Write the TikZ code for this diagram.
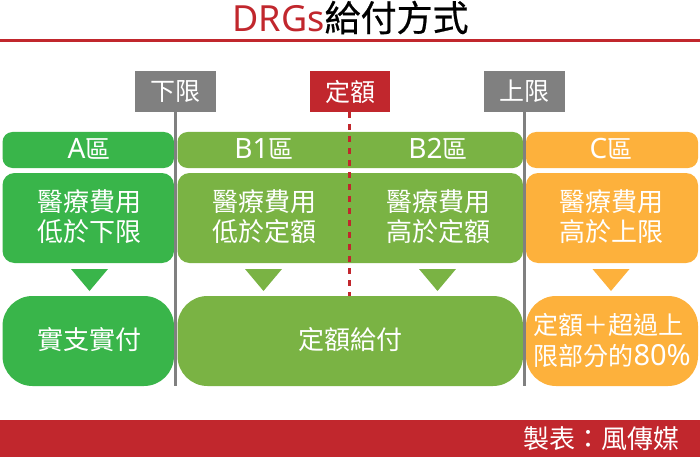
\documentclass[tikz,border=0pt]{standalone}
\usepackage{fontspec}
\setmainfont{Noto Sans CJK TC}
\newfontfamily\latinf{Noto Sans}
\newfontfamily\titlef[FakeBold=0.6]{Noto Sans CJK TC}
\definecolor{brandred}{HTML}{C1272D}
\definecolor{midgray}{HTML}{808080}
\definecolor{zgreen}{HTML}{39B54A}
\definecolor{zolive}{HTML}{7AB344}
\definecolor{zorange}{HTML}{FDB13C}
\newcommand{\fs}[1]{\fontsize{#1}{#1}\selectfont}
\newcommand{\lat}[1]{{\latinf\fontsize{28}{28}\selectfont #1}}
\tikzset{
  every node/.style={inner sep=0pt,outer sep=0pt,text=white,align=center},
  flag/.style={minimum width=81pt,minimum height=41pt,fill=midgray,font=\fs{25}},
  head/.style={minimum height=36pt,rounded corners=10pt},
  cond/.style={minimum height=90pt,rounded corners=12pt},
  pay/.style={minimum height=90pt,rounded corners=30pt,font=\fs{26}},
  limit/.style={draw=midgray,line width=3pt},
  lbl/.style={font=\fs{25}},
  txt/.style={font=\fs{26}}
}
\begin{document}
\begin{tikzpicture}[x=1pt,y=-1pt]
\useasboundingbox (0,0) rectangle (700,457);
% title and rule
\node (title) at (350.5,17.5) [text=black,font=\fs{36}] {{\latinf\color{brandred}DRGs}{\titlef 給付方式}};
\fill[brandred] (0,39) rectangle (700,42);
% footer
\node (footer) [fill=brandred,minimum width=700pt,minimum height=37pt] at (350,438.5) {};
\node (credit) at (601,439) [txt] {製表：風傳媒};
% zone headers
\node (ha) [head,fill=zgreen,minimum width=171.5pt] at (88.25,150) {};
\node (hb) [head,fill=zolive,minimum width=345.5pt] at (350.25,150) {};
\node (hc) [head,fill=zorange,minimum width=172pt] at (612,150) {};
\node (ta) [lbl] at (89,148.5) {\lat{A}區};
\node (tb) [lbl] at (264,148.5) {\lat{B1}區};
\node (td) [lbl] at (438,148.5) {\lat{B2}區};
\node (tc) [lbl] at (611,148.5) {\lat{C}區};
% conditions
\node (ca) [cond,fill=zgreen,minimum width=171.5pt] at (88.25,218) {};
\node (cb) [cond,fill=zolive,minimum width=345.5pt] at (350.25,218) {};
\node (cc) [cond,fill=zorange,minimum width=172pt] at (612,218) {};
\node (xa) [txt] at (89.5,217) {醫療費用\\[4pt]低於下限};
\node (xb) [txt] at (264,217) {醫療費用\\[4pt]低於定額};
\node (xd) [txt] at (438,217) {醫療費用\\[4pt]高於定額};
\node (xc) [txt] at (611,217) {醫療費用\\[4pt]高於上限};
% triangles
\fill[zgreen] (71,269) -- (108,269) -- (89.5,291) -- cycle;
\fill[zolive] (245,269) -- (282,269) -- (263.5,291) -- cycle;
\fill[zolive] (419,269) -- (456,269) -- (437.5,291) -- cycle;
\fill[zorange] (592.5,269) -- (629.5,269) -- (611,291) -- cycle;
% payments
\node (pa) [pay,fill=zgreen,minimum width=171.5pt] at (88.25,341) {};
\node (pb) [pay,fill=zolive,minimum width=345.5pt] at (350.25,341) {};
\node (pc) [pay,fill=zorange,minimum width=172pt] at (612,341) {};
\node (ua) [txt] at (89.5,340) {實支實付};
\node (ub) [txt] at (350.5,340) {定額給付};
\node (pt) [font=\fs{25},align=left,anchor=west] at (533.5,340.5) {定額＋超過上\\[6pt]限部分的{\latinf\fontsize{29}{25}\selectfont 80\%}};
% limit flags and lines
\node (lo) [flag] at (175.5,91.5) {下限};
\node (mid) [flag,fill=brandred,minimum width=80pt] at (350,91.5) {定額};
\node (up) [flag] at (524.5,91.5) {上限};
\coordinate (loend) at (175.5,386);
\coordinate (midtop) at (349.5,112);
\coordinate (midend) at (349.5,296);
\coordinate (uptop) at (524,112);
\coordinate (upend) at (524,386);
\draw[limit] (lo.south) -- (loend);
\draw[limit] (uptop) -- (upend);
\draw[brandred,line width=3pt,dash pattern=on 6pt off 6pt] (midtop) -- (midend);
\end{tikzpicture}
\end{document}
